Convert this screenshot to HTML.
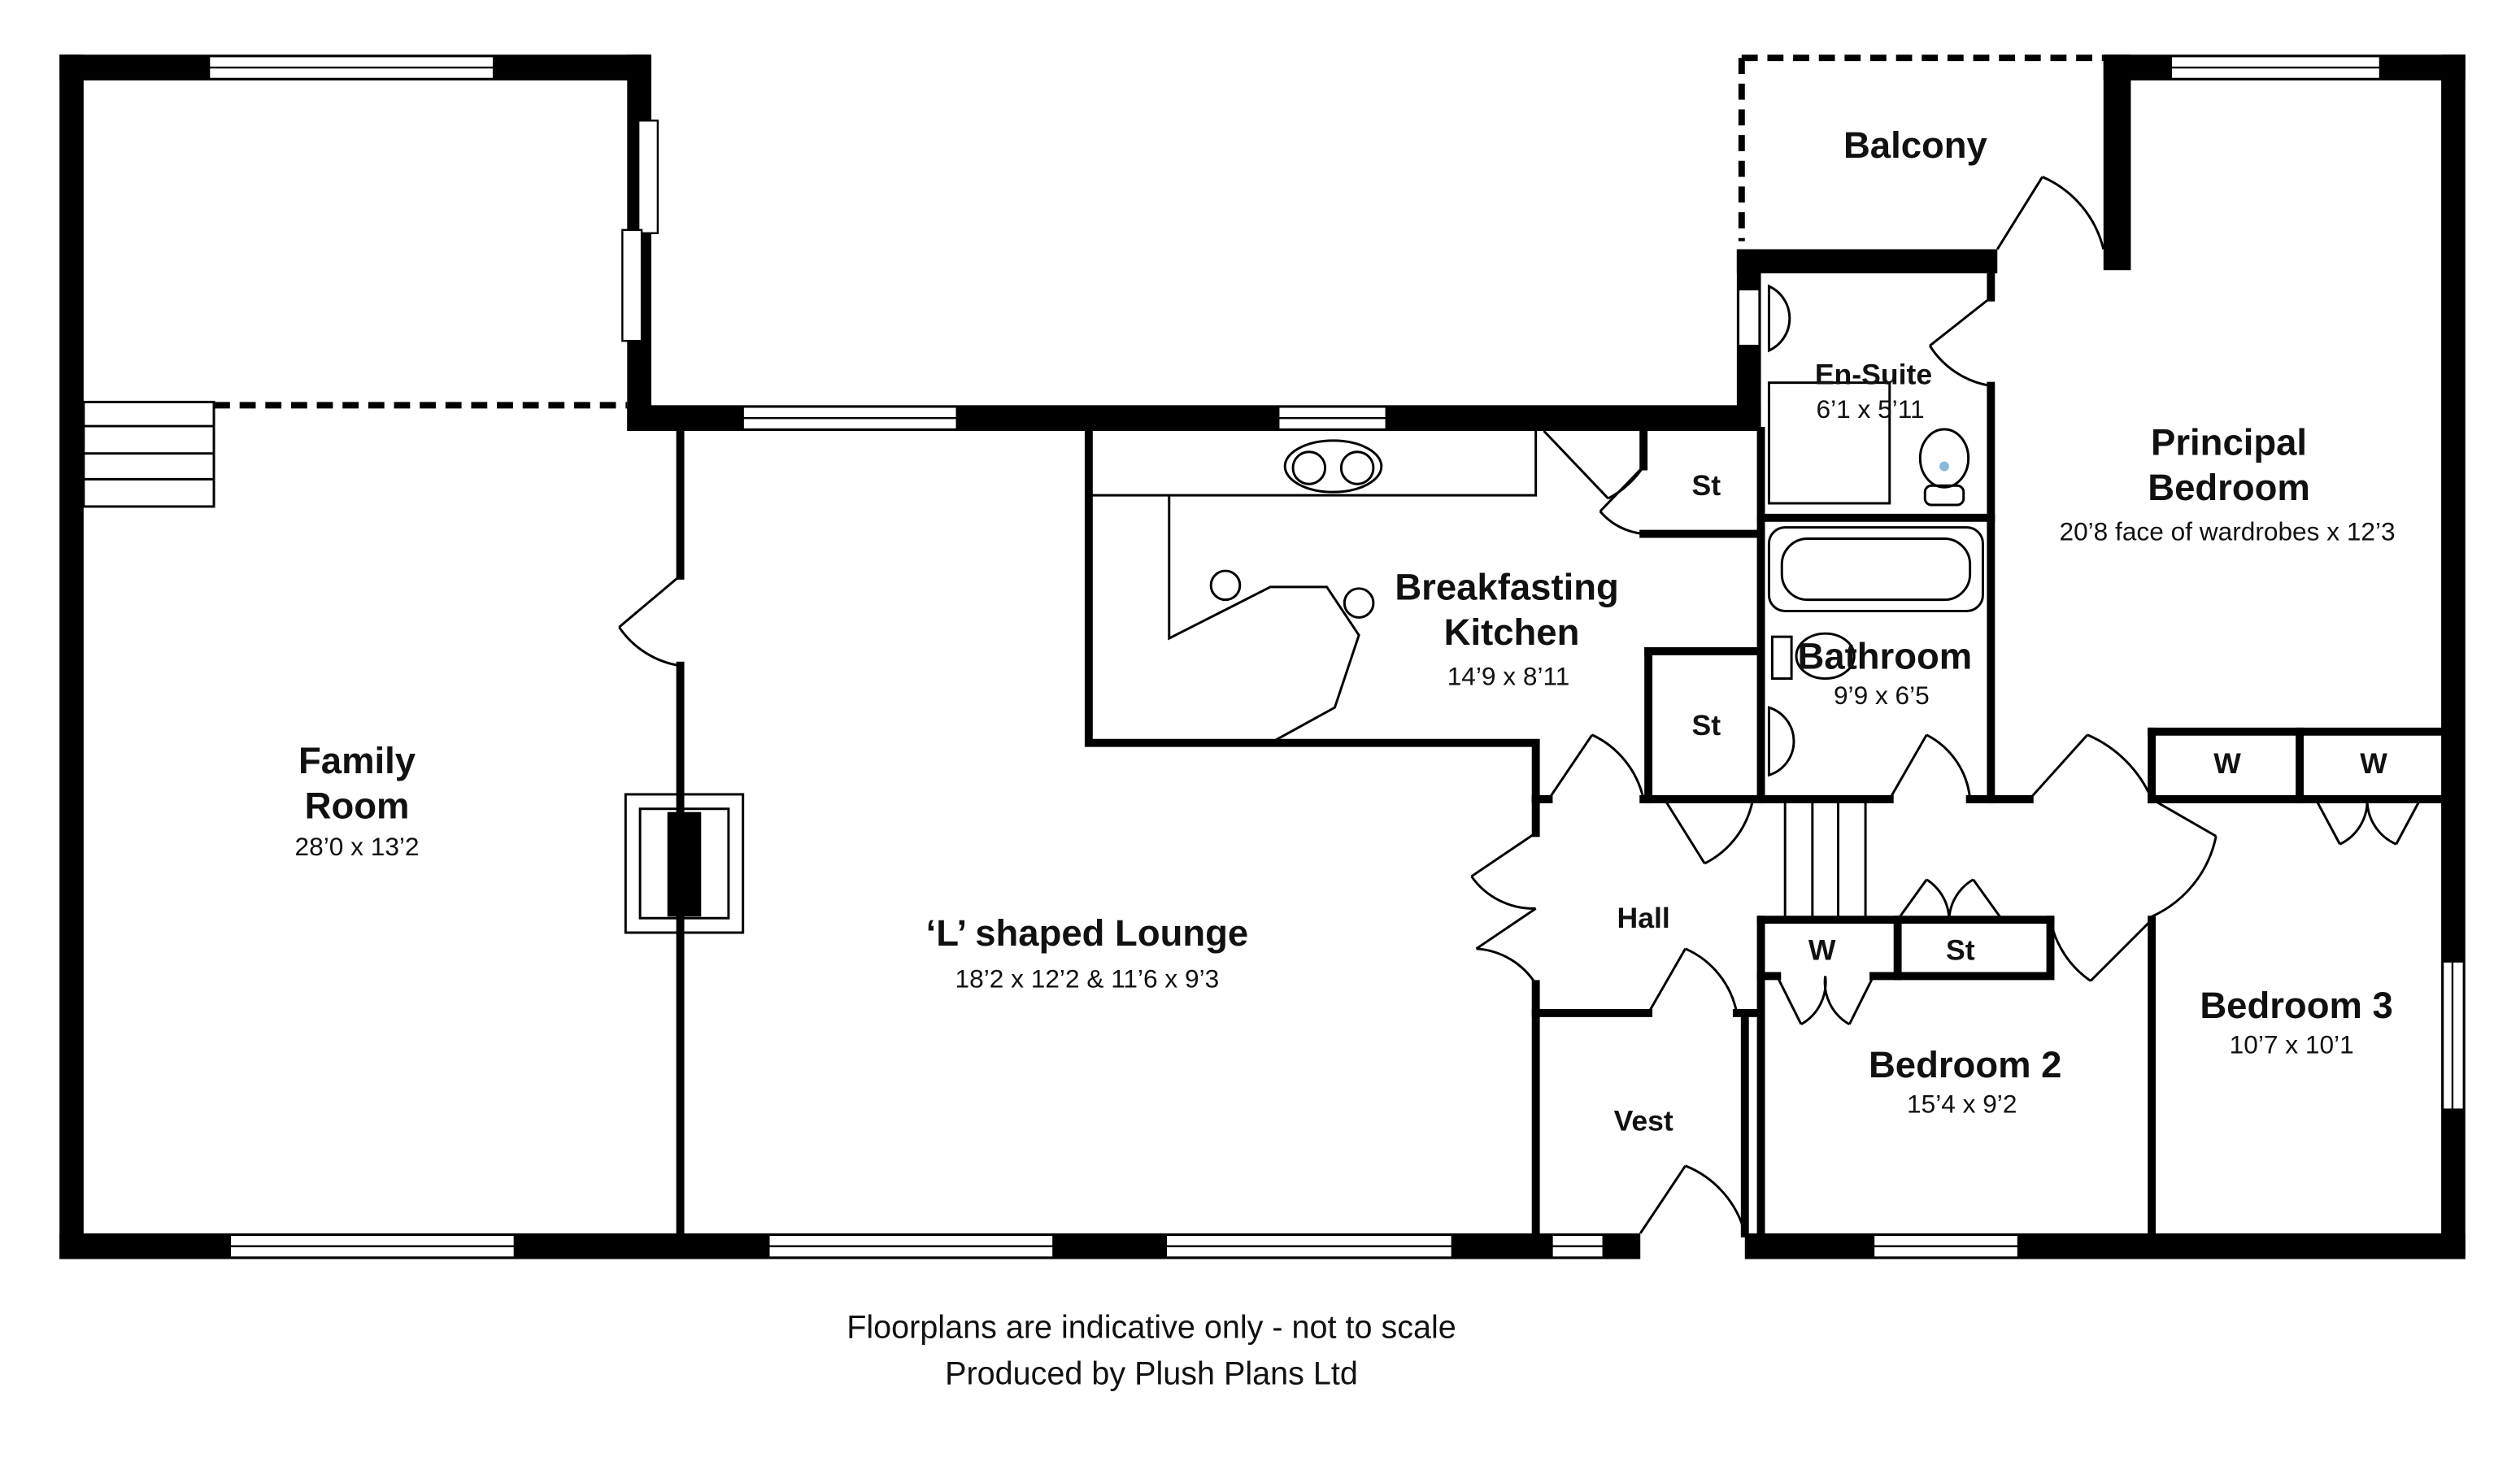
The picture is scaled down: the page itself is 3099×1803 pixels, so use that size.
<!DOCTYPE html>
<html><head><meta charset="utf-8"><style>
html,body{margin:0;padding:0;background:#fff;}
svg{display:block}
text{font-family:"Liberation Sans",sans-serif;fill:#111;text-anchor:middle}
.b{font-weight:bold;font-size:23px}
.s{font-size:16px}
.m{font-weight:bold;font-size:18px}
</style></head><body>
<svg width="3099" height="1803" viewBox="0 0 1567 911.7" preserveAspectRatio="none" xmlns="http://www.w3.org/2000/svg">
<g fill="#000">
<rect x="37" y="34" width="15" height="749"/>
<rect x="37" y="34" width="368" height="16"/>
<rect x="390" y="34" width="15" height="234"/>
<rect x="390" y="252" width="705" height="16"/>
<rect x="1080" y="155" width="15" height="113"/>
<rect x="1080" y="155" width="162" height="15"/>
<rect x="1308" y="34" width="17" height="134"/>
<rect x="1308" y="34" width="225" height="16"/>
<rect x="1518" y="34" width="15" height="749"/>
<rect x="37" y="767" width="983" height="16"/>
<rect x="1085" y="767" width="448" height="16"/>
</g>
<g fill="#fff" stroke="#000" stroke-width="1.2">
<rect x="130" y="35" width="177" height="14"/><line x1="130" y1="42" x2="307" y2="42"/>
<rect x="397" y="75" width="12" height="70"/><rect x="387" y="143" width="12" height="69"/>
<rect x="462" y="253" width="133" height="14"/><line x1="462" y1="260" x2="595" y2="260"/>
<rect x="795" y="253" width="67" height="14"/><line x1="795" y1="260" x2="862" y2="260"/>
<rect x="1350" y="35" width="130" height="14"/><line x1="1350" y1="42" x2="1480" y2="42"/>
<rect x="1519" y="598" width="13" height="92"/><line x1="1525" y1="598" x2="1525" y2="690"/>
<rect x="143" y="768" width="177" height="14"/><line x1="143" y1="775" x2="320" y2="775"/>
<rect x="478" y="768" width="177" height="14"/><line x1="478" y1="775" x2="655" y2="775"/>
<rect x="725" y="768" width="178" height="14"/><line x1="725" y1="775" x2="903" y2="775"/>
<rect x="965" y="768" width="32" height="14"/><line x1="965" y1="775" x2="997" y2="775"/>
<rect x="1165" y="768" width="90" height="14"/><line x1="1165" y1="775" x2="1255" y2="775"/>
<rect x="1081" y="180" width="13" height="35"/>
</g>
<g stroke="#000" stroke-width="4" stroke-dasharray="10,6" fill="none">
<line x1="133" y1="252" x2="390" y2="252"/>
<line x1="1083" y1="36" x2="1083" y2="150"/>
<line x1="1083" y1="36" x2="1308" y2="36"/>
</g>
<g stroke="#000" stroke-width="1.5" fill="none">
<rect x="52" y="250" width="81" height="65"/>
<line x1="52" y1="265" x2="133" y2="265"/><line x1="52" y1="282" x2="133" y2="282"/><line x1="52" y1="298" x2="133" y2="298"/>
<line x1="1110" y1="497" x2="1110" y2="572"/><line x1="1127" y1="497" x2="1127" y2="572"/><line x1="1143" y1="497" x2="1143" y2="572"/><line x1="1160" y1="497" x2="1160" y2="572"/>
</g>
<g stroke="#000" stroke-width="5" fill="none" stroke-linecap="square">
<line x1="423" y1="268" x2="423" y2="358"/><line x1="423" y1="414" x2="423" y2="767"/>
<polyline points="677,268 677,462 955,462 955,497"/>
<line x1="955" y1="497" x2="955" y2="518"/><line x1="955" y1="612" x2="955" y2="767"/>
<line x1="955" y1="630" x2="1025" y2="630"/><line x1="1080" y1="630" x2="1095" y2="630"/>
<line x1="1085" y1="630" x2="1085" y2="767"/>
<line x1="1025" y1="405" x2="1025" y2="497"/><line x1="1025" y1="405" x2="1095" y2="405"/>
<line x1="1095" y1="268" x2="1095" y2="497"/><line x1="1095" y1="572" x2="1095" y2="767"/>
<line x1="1022" y1="268" x2="1022" y2="290"/><line x1="1022" y1="332" x2="1095" y2="332"/>
<line x1="955" y1="497" x2="963" y2="497"/><line x1="1022" y1="497" x2="1175" y2="497"/>
<line x1="1225" y1="497" x2="1262" y2="497"/><line x1="1338" y1="497" x2="1518" y2="497"/>
<line x1="1095" y1="322" x2="1238" y2="322"/>
<line x1="1238" y1="170" x2="1238" y2="185"/><line x1="1238" y1="240" x2="1238" y2="497"/>
<line x1="1338" y1="455" x2="1338" y2="497"/><line x1="1338" y1="455" x2="1518" y2="455"/>
<line x1="1430" y1="455" x2="1430" y2="497"/>
<line x1="1338" y1="572" x2="1338" y2="767"/>
<line x1="1095" y1="572" x2="1275" y2="572"/>
<polyline points="1180,572 1180,607 1275,607 1275,572"/>
<line x1="1095" y1="607" x2="1105" y2="607"/><line x1="1165" y1="607" x2="1180" y2="607"/>
</g>
<g stroke="#000" stroke-width="1.5" fill="none">
<path d="M423,358 L385,390 M423,414 A56,56 0 0 1 385,390"/>
<path d="M963,497 L990,457 M1022,497 A58,58 0 0 0 990,457"/>
<path d="M955,518 L915,545 M955,565 A47,47 0 0 1 915,545"/>
<path d="M955,565 L918,590 M955,612 A47,47 0 0 0 918,590"/>
<path d="M1025,630 L1048,590 M1080,630 A55,55 0 0 0 1048,590"/>
<path d="M1020,767 L1048,725 M1085,767 A62,62 0 0 0 1048,725"/>
<path d="M1035,497 L1060,537 M1090,497 A56,56 0 0 1 1060,537"/>
<path d="M1175,497 L1198,457 M1225,497 A50,50 0 0 0 1198,457"/>
<path d="M1262,497 L1298,457 M1338,497 A76,76 0 0 0 1298,457"/>
<path d="M1338,497 L1378,520 M1338,570 A70,70 0 0 0 1378,520"/>
<path d="M1338,572 L1300,610 M1275,572 A60,60 0 0 0 1300,610"/>
<path d="M960,268 L1000,310 M1022,290 A60,60 0 0 1 1000,310"/>
<path d="M1022,290 L995,318 M1022,332 A40,40 0 0 1 995,318"/>
<path d="M1238,185 L1200,215 M1238,240 A55,55 0 0 1 1200,215"/>
<path d="M1242,155 L1270,110 M1308,155 A66,66 0 0 0 1270,110"/>
<path d="M1105,607 L1120,637 M1135,607 A30,30 0 0 1 1120,637 M1165,607 L1150,637 M1135,607 A30,30 0 0 0 1150,637"/>
<path d="M1180,572 L1198,547 M1212,572 A30,30 0 0 0 1198,547 M1245,572 L1227,547 M1212,572 A30,30 0 0 1 1227,547"/>
<path d="M1440,497 L1455,525 M1472,497 A30,30 0 0 1 1455,525 M1505,497 L1490,525 M1472,497 A30,30 0 0 0 1490,525"/>
</g>
<g stroke="#000" stroke-width="1.5" fill="none">
<polyline points="677,308 955,308 955,268"/>
<polyline points="727,308 727,397 790,365 825,365 845,395 830,440 790,462"/>
<ellipse cx="829" cy="290" rx="30" ry="16"/><circle cx="814" cy="291" r="10"/><circle cx="844" cy="291" r="10"/>
<circle cx="762" cy="364" r="9"/><circle cx="845" cy="375" r="9"/>
<rect x="389" y="494" width="73" height="86"/><rect x="398" y="503" width="55" height="68"/>
<rect x="1100" y="328" width="133" height="52" rx="10"/><rect x="1108" y="335" width="117" height="38" rx="16"/>
<rect x="1100" y="238" width="75" height="75"/>
<path d="M1100,178 A22,22 0 0 1 1100,218 Z"/>
<path d="M1100,440 A22,22 0 0 1 1100,482 Z"/>
<ellipse cx="1209" cy="285" rx="15" ry="18"/><rect x="1197" y="302" width="24" height="12" rx="4"/>
<ellipse cx="1135" cy="408" rx="18" ry="14"/><rect x="1102" y="396" width="12" height="26"/>
</g>
<rect x="415" y="505" width="21" height="65" fill="#000"/>
<circle cx="1209" cy="290" r="3" fill="#8ab8d8"/>
<text class="b" x="1191" y="98">Balcony</text>
<text class="m" x="1165" y="239">En-Suite</text>
<text class="s" x="1163" y="260">6’1 x 5’11</text>
<text class="b" x="1386" y="283">Principal</text>
<text class="b" x="1386" y="311">Bedroom</text>
<text class="s" x="1385" y="336">20’8 face of wardrobes x 12’3</text>
<text class="b" x="937" y="373">Breakfasting</text>
<text class="b" x="940" y="401">Kitchen</text>
<text class="s" x="938" y="426">14’9 x 8’11</text>
<text class="b" x="1172" y="416">Bathroom</text>
<text class="s" x="1170" y="438">9’9 x 6’5</text>
<text class="m" x="1061" y="308">St</text>
<text class="m" x="1061" y="457">St</text>
<text class="m" x="1385" y="481">W</text>
<text class="m" x="1476" y="481">W</text>
<text class="b" x="222" y="481">Family</text>
<text class="b" x="222" y="509">Room</text>
<text class="s" x="222" y="532">28’0 x 13’2</text>
<text class="b" x="676" y="588">‘L’ shaped Lounge</text>
<text class="s" x="676" y="614">18’2 x 12’2 &amp; 11’6 x 9’3</text>
<text class="m" x="1022" y="577">Hall</text>
<text class="m" x="1133" y="597">W</text>
<text class="m" x="1219" y="597">St</text>
<text class="b" x="1428" y="633">Bedroom 3</text>
<text class="s" x="1425" y="655">10’7 x 10’1</text>
<text class="b" x="1222" y="670">Bedroom 2</text>
<text class="s" x="1220" y="692">15’4 x 9’2</text>
<text class="m" x="1022" y="703">Vest</text>
<text x="716" y="832" style="font-size:20px">Floorplans are indicative only - not to scale</text>
<text x="716" y="861" style="font-size:20px">Produced by Plush Plans Ltd</text>
</svg>
</body></html>
